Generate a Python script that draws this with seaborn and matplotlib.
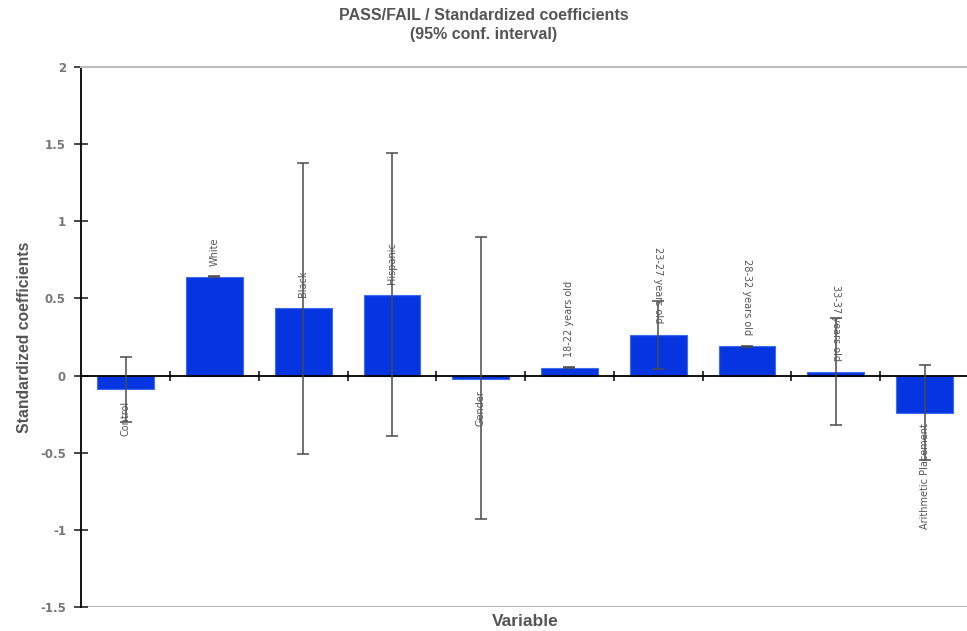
import numpy as np
import pandas as pd
import seaborn as sns
import matplotlib.pyplot as plt
from matplotlib.ticker import FixedLocator, FuncFormatter

# Values
variables = ['Control', 'White', 'Black', 'Hispanic', 'Gender',
             '18-22 years old', '23-27 years old', '28-32 years old',
             '33-37 years old', 'Arithmetic Placement']
coefs = [-0.09, 0.64, 0.44, 0.525, -0.025, 0.05, 0.265, 0.19, 0.025, -0.24]
ci_low = [-0.30, 0.637, -0.51, -0.39, -0.93, 0.047, 0.045, 0.187, -0.32, -0.55]
ci_high = [0.12, 0.643, 1.38, 1.44, 0.90, 0.053, 0.485, 0.193, 0.37, 0.07]
label_rot = [90, 90, 90, 90, 90, 90, -90, -90, -90, 90]

data = pd.DataFrame({'Variable': variables, 'Coefficient': coefs})

sns.set_style('white')
plt.rcParams['font.family'] = ['DejaVu Sans']

fig = plt.figure(figsize=(9.67, 6.31), dpi=100)
ax = fig.add_axes([0.084, 0.038, 0.918, 0.856])

sns.barplot(data=data, x='Variable', y='Coefficient', color='#0535e0',
            width=0.64, edgecolor='#3f6cf0', linewidth=0.8, saturation=1,
            errorbar=None, ax=ax)

# Confidence intervals
pos = np.arange(len(variables))
coef_arr = np.array(coefs)
yerr = [coef_arr - np.array(ci_low), np.array(ci_high) - coef_arr]
ax.errorbar(pos, coef_arr, yerr=yerr, fmt='none', ecolor='#4a4a4a',
            elinewidth=1.1, capsize=4.5, capthick=1.1, zorder=4)

# Data labels beside the bar ends
for i, (v, r) in enumerate(zip(coefs, label_rot)):
    off = 11 if v >= 0 else -11
    ax.annotate(variables[i], (i, v), xytext=(0, off), textcoords='offset pixels',
                rotation=r, ha='center', va='bottom' if v >= 0 else 'top',
                fontsize=7, color='#555555', zorder=5)

ax.set_ylim(-1.5, 2)
ax.set_xlim(-0.5, len(variables) - 0.5)
ax.yaxis.set_major_locator(FixedLocator(np.arange(-1.5, 2.01, 0.5)))
ax.yaxis.set_major_formatter(FuncFormatter(lambda x, p: f'{x:g}'))
ax.tick_params(axis='y', direction='inout', length=10, width=1.2,
               labelsize=8.5, labelcolor='#777777', left=True, pad=6)
for lbl in ax.get_yticklabels():
    lbl.set_fontweight('bold')

# Horizontal axis sits at zero with ticks between categories
ax.spines['bottom'].set_position(('data', 0))
ax.spines['bottom'].set_color('black')
ax.spines['bottom'].set_linewidth(1.3)
ax.set_xticks(np.arange(0.5, len(variables) - 0.5, 1))
ax.set_xticklabels([])
ax.tick_params(axis='x', direction='inout', length=7, width=1.3, bottom=True)
ax.axhline(-1.5, color='#bbbbbb', linewidth=1.5, zorder=0)

ax.spines['left'].set_color('black')
ax.spines['left'].set_linewidth(1.3)
ax.spines['top'].set_color('#bbbbbb')
ax.spines['top'].set_linewidth(1.5)
ax.spines['right'].set_visible(False)

ax.set_ylabel('Standardized coefficients', fontsize=11.3, fontweight='bold',
              color='#555555', family='Liberation Sans')
ax.yaxis.set_label_coords(-0.055, 0.5)
ax.set_xlabel('Variable', fontsize=12.5, fontweight='bold', color='#555555',
              family='Liberation Sans')
ax.xaxis.set_label_coords(0.5, -0.013)

fig.suptitle('PASS/FAIL / Standardized coefficients\n(95% conf. interval)',
             x=0.5, y=0.988, va='top', fontsize=11.5, fontweight='bold',
             color='#555555', linespacing=1.4, family='Liberation Sans')

fig.savefig('out.png', dpi=100)
